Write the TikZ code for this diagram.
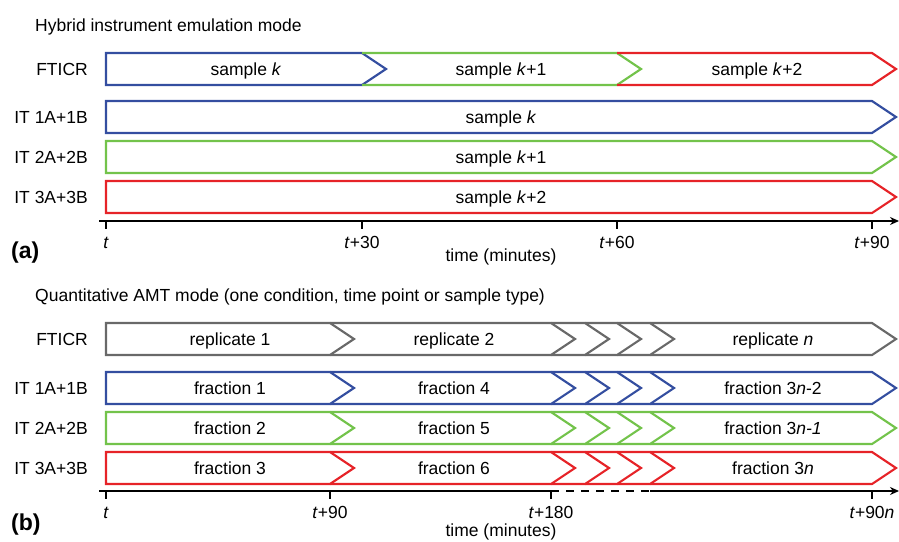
\documentclass[tikz,border=0pt]{standalone}
\usepackage{fontspec}
\setmainfont{Liberation Sans}
\usetikzlibrary{arrows.meta}
\definecolor{cblue}{RGB}{52,78,160}
\definecolor{cgreen}{RGB}{115,195,75}
\definecolor{cred}{RGB}{230,35,40}
\definecolor{cgray}{RGB}{105,105,105}
\tikzset{
  seg/.style={line width=2.1pt, line join=miter},
  lbl/.style={anchor=base, inner sep=0pt, font=\fontsize{17.5}{20}\selectfont},
  rowlbl/.style={lbl, anchor=base east},
  ttl/.style={lbl, anchor=base west},
  panel/.style={anchor=base west, inner sep=0pt, font=\fontsize{23}{26}\selectfont\bfseries},
  axis/.style={line width=1.8pt},
  tick/.style={line width=1.5pt},
}
\begin{document}
\begin{tikzpicture}[x=1pt,y=-1pt]
\useasboundingbox (0,0) rectangle (899,541);
% ---------- (a) ----------
\node[ttl] (ta) at (35,31) {Hybrid instrument emulation mode};
\node[rowlbl] (la1) at (88,75.3) {FTICR};
\node[rowlbl] (la2) at (88,123.3) {IT 1A+1B};
\node[rowlbl] (la3) at (88,163.3) {IT 2A+2B};
\node[rowlbl] (la4) at (88,203.3) {IT 3A+3B};
% FTICR chevrons
\draw[seg,cblue] (106,53) -- (362,53) -- (386,69) -- (362,85) -- (106,85) -- cycle;
\draw[seg,cgreen] (362,53) -- (617,53) -- (641,69) -- (617,85) -- (362,85);
\draw[seg,cred] (617,53) -- (872,53) -- (896,69) -- (872,85) -- (617,85);
\node[lbl] (sa1) at (246,75.3) {sample \textit{k}};
\node[lbl] (sa2) at (501,75.3) {sample \textit{k}+1};
\node[lbl] (sa3) at (757,75.3) {sample \textit{k}+2};
% IT rows
\draw[seg,cblue] (106,101) -- (872,101) -- (896,117) -- (872,133) -- (106,133) -- cycle;
\draw[seg,cgreen] (106,141) -- (872,141) -- (896,157) -- (872,173) -- (106,173) -- cycle;
\draw[seg,cred] (106,181) -- (872,181) -- (896,197) -- (872,213) -- (106,213) -- cycle;
\node[lbl] (sb1) at (501,123.3) {sample \textit{k}};
\node[lbl] (sb2) at (501,163.3) {sample \textit{k}+1};
\node[lbl] (sb3) at (501,203.3) {sample \textit{k}+2};
% axis
\coordinate (axa0) at (99,221);
\coordinate (axa1) at (899,221);
\draw[axis,-{Stealth[length=9pt,width=8pt]}] (axa0) -- (axa1);
\foreach \x in {106,362,617,872}{
  \draw[tick] (\x,221) -- (\x,229);
}
\node[lbl] (tka0) at (106,248) {\textit{t}};
\node[lbl] (tka1) at (362,248) {\textit{t}+30};
\node[lbl] (tka2) at (617,248) {\textit{t}+60};
\node[lbl] (tka3) at (872,248) {\textit{t}+90};
\node[lbl] (xa) at (501,261) {time (minutes)};
\node[panel] (pa) at (11,258) {(a)};
% ---------- (b) ----------
\node[ttl] (tb) at (35,301) {Quantitative AMT mode (one condition, time point or sample type)};
\node[rowlbl] (lb1) at (88,345.3) {FTICR};
\node[rowlbl] (lb2) at (88,394.3) {IT 1A+1B};
\node[rowlbl] (lb3) at (88,434.3) {IT 2A+2B};
\node[rowlbl] (lb4) at (88,474.3) {IT 3A+3B};
\foreach \c/\t/\b in {cgray/323/355, cblue/372/404, cgreen/412/444, cred/452/484}{
  \pgfmathsetmacro{\m}{(\t+\b)/2}
  \draw[seg,\c] (106,\t) -- (330,\t) -- (354,\m) -- (330,\b) -- (106,\b) -- cycle;
  \foreach \s/\e in {330/551,551/585,585/617,617/650,650/872}{
    \pgfmathsetmacro{\tp}{\e+24}
    \draw[seg,\c] (\s,\t) -- (\e,\t) -- (\tp,\m) -- (\e,\b) -- (\s,\b);
  }
}
\node[lbl] (r1) at (230,345.3) {replicate 1};
\node[lbl] (r2) at (454,345.3) {replicate 2};
\node[lbl] (rn) at (773,345.3) {replicate \textit{n}};
\node[lbl] (f1) at (230,394.3) {fraction 1};
\node[lbl] (f4) at (454,394.3) {fraction 4};
\node[lbl] (f3n2) at (773,394.3) {fraction 3\textit{n}-2};
\node[lbl] (f2) at (230,434.3) {fraction 2};
\node[lbl] (f5) at (454,434.3) {fraction 5};
\node[lbl] (f3n1) at (773,434.3) {fraction 3\textit{n-1}};
\node[lbl] (f3) at (230,474.3) {fraction 3};
\node[lbl] (f6) at (454,474.3) {fraction 6};
\node[lbl] (f3n) at (773,474.3) {fraction 3\textit{n}};
% axis
\coordinate (axb0) at (99,491);
\coordinate (axb1) at (551,491);
\coordinate (axb2) at (650,491);
\coordinate (axb3) at (899,491);
\draw[axis] (axb0) -- (axb1);
\draw[axis,dash pattern=on 8pt off 7pt] (axb1) -- (axb2);
\draw[axis,-{Stealth[length=9pt,width=8pt]}] (axb2) -- (axb3);
\foreach \x in {106,330,551,872}{
  \draw[tick] (\x,491) -- (\x,499);
}
\node[lbl] (tkb0) at (106,518) {\textit{t}};
\node[lbl] (tkb1) at (330,518) {\textit{t}+90};
\node[lbl] (tkb2) at (551,518) {\textit{t}+180};
\node[lbl] (tkb3) at (872,518) {\textit{t}+90\textit{n}};
\node[lbl] (xb) at (501,536) {time (minutes)};
\node[panel] (pb) at (11,530) {(b)};
\end{tikzpicture}
\end{document}
